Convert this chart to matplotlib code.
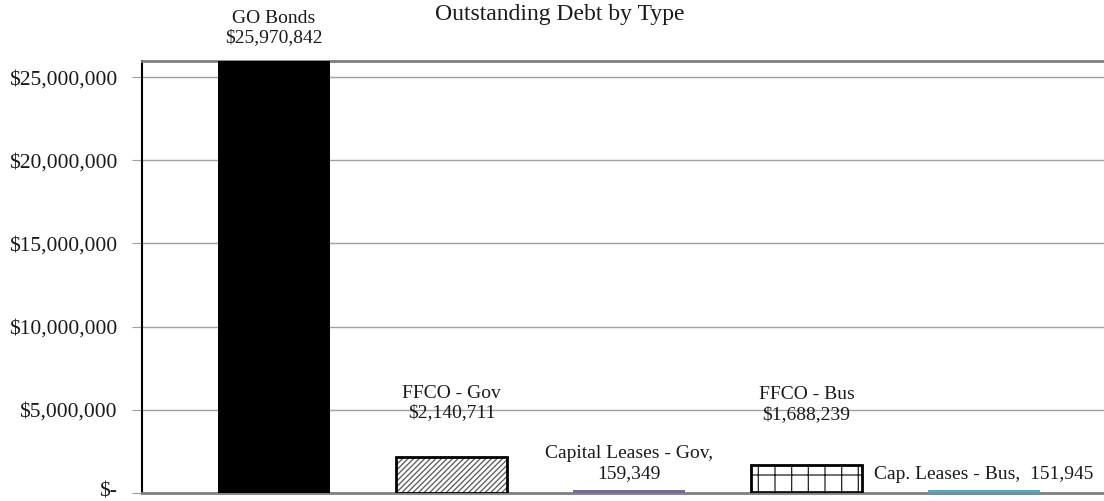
"""Outstanding debt by type, bar chart"""
import matplotlib
matplotlib.use("Agg")
import matplotlib.pyplot as plt
import matplotlib.transforms as mtransforms
from matplotlib.ticker import FuncFormatter

categories = ["GO Bonds", "FFCO - Gov", "Capital Leases - Gov", "FFCO - Bus", "Cap. Leases - Bus"]
values = [25970842, 2140711, 159349, 1688239, 151945]
yticks = [0, 5000000, 10000000, 15000000, 20000000, 25000000]

labels = [
    f"{categories[0]}\n${values[0]:,}",
    f"{categories[1]}\n${values[1]:,}",
    f"{categories[2]},\n{values[2]:,}",
    f"{categories[3]}\n${values[3]:,}",
    f"{categories[4]},  {values[4]:,}",
]

plt.rcParams["font.family"] = ["Liberation Serif", "DejaVu Serif"]
plt.rcParams["hatch.linewidth"] = 0.9

fig = plt.figure(figsize=(11.04, 5.01), dpi=100)
ax = fig.add_axes([142 / 1104, 8 / 501, 962 / 1104, 432 / 501])

x = list(range(len(categories)))
w = 0.63

# fills
ax.bar(x[0], values[0], w, color="black", zorder=3)
ax.bar(x[1], values[1], w, color="white", edgecolor="#555555", hatch="//////", lw=0, zorder=3)
ax.bar(x[1], values[1], w, color="none", edgecolor="black", lw=2, zorder=4)
ax.bar(x[2], values[2], w, color="#8064A2", lw=0, zorder=3)
ax.bar(x[3], values[3], w, color="white", edgecolor="#202020", hatch="+", lw=0, zorder=3)
ax.bar(x[3], values[3], w, color="none", edgecolor="black", lw=2, zorder=4)
ax.bar(x[4], values[4], w, color="#4BACC6", lw=0, zorder=3)

# label offsets (points above bar top)
offs = [13.5, 29, 9, 33, 8.5]
for i, (lab, v) in enumerate(zip(labels, values)):
    ax.annotate(lab, (x[i], v), xytext=(0, offs[i]), textcoords="offset points",
                ha="center", va="baseline", fontsize=14, color="#1a1a1a",
                annotation_clip=False, linespacing=1.2)

ax.set_xlim(-0.744, 4.676)
ax.set_ylim(0, max(values))
ax.set_yticks(yticks)
ax.yaxis.set_major_formatter(FuncFormatter(lambda v, p: "$-" if v == 0 else f"${v:,.0f}"))
ax.set_xticks([])
ax.tick_params(axis="y", length=7, color="#a0a0a0", labelsize=15.5, labelcolor="#1a1a1a", pad=11)
ax.grid(axis="y", color="#a0a0a0", lw=1, zorder=0)

# lift the "$-" label a little so it stays inside the figure
zero_lab = ax.get_yticklabels()[0]
zero_lab.set_transform(zero_lab.get_transform()
                       + mtransforms.ScaledTranslation(0, 3 / 100, fig.dpi_scale_trans))

ax.spines["left"].set_color("black")
ax.spines["left"].set_linewidth(1.5)
ax.spines["top"].set_color("#808080")
ax.spines["top"].set_linewidth(2)
ax.spines["bottom"].set_color("#808080")
ax.spines["bottom"].set_linewidth(2)
ax.spines["right"].set_visible(False)

fig.text(560 / 1104, 1 - 20 / 501, "Outstanding Debt by Type", ha="center", va="baseline",
         fontsize=17, color="#1a1a1a")

fig.savefig("out.png", dpi=100)
